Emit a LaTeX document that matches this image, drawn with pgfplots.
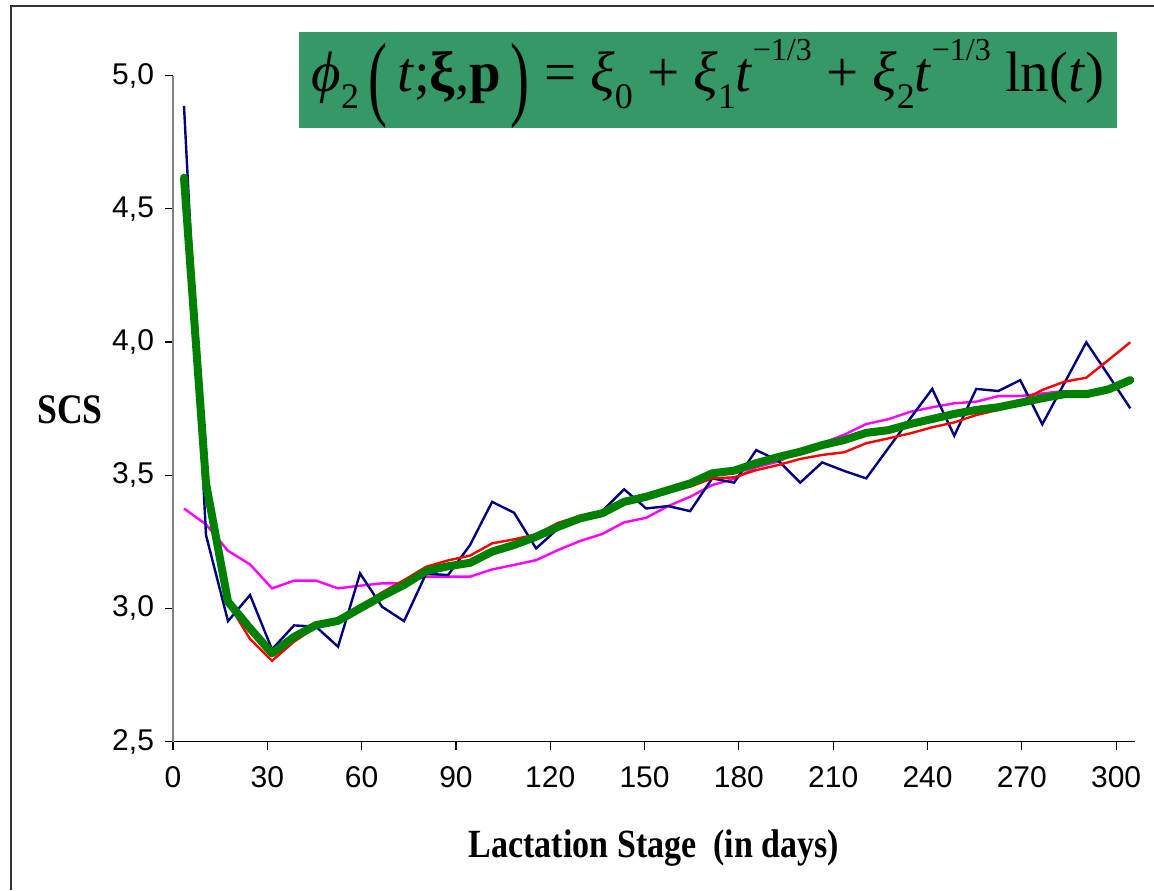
\documentclass[border=0pt]{standalone}
\usepackage{pgfplots}
\pgfplotsset{compat=1.18}
\usepackage{fontspec}
\setmainfont{Liberation Serif}
\newfontfamily\arialfont{Liberation Sans}
\newfontfamily\condserif[FakeStretch=0.85]{Liberation Serif}

\definecolor{eqgreen}{RGB}{52,153,102}
\definecolor{navyline}{RGB}{0,0,128}
\definecolor{fitgreen}{RGB}{0,128,0}
\definecolor{pinkline}{RGB}{255,0,255}
\definecolor{redline}{RGB}{255,0,0}

\newcommand{\sub}[1]{\raisebox{-0.3em}{\fontsize{18}{18}\selectfont #1}}
\newcommand{\sups}[1]{\raisebox{0.55em}{\fontsize{16}{16}\selectfont #1}}
\newcommand{\bigpar}[1]{\raisebox{-0.3em}{\scalebox{1}[1.65]{#1}}}

\begin{document}
\begin{tikzpicture}
  \useasboundingbox (0,0) rectangle (577pt,445pt);
  % outer frame (only top and left visible)
  \draw[line width=0.8pt, black!80] (5.5pt,0) -- (5.5pt,442pt) -- (577pt,442pt);

  \begin{axis}[
      at={(86.5pt,74.25pt)}, anchor=south west,
      scale only axis,
      width=481pt, height=332.9pt,
      xmin=0, xmax=306,
      ymin=2.5, ymax=5,
      axis x line*=bottom,
      axis y line*=left,
      y axis line style={draw=gray, line width=0.9pt},
      x axis line style={draw=black, line width=0.8pt},
      tick align=outside,
      major tick length=4pt,
      tick style={black, line width=0.6pt},
      xtick={0,30,...,300},
      ytick={2.5,3,3.5,4,4.5,5},
      ticklabel style={font=\arialfont\fontsize{15}{15}\selectfont},
      /pgf/number format/assume math mode=true,
      yticklabel style={/pgf/number format/fixed, /pgf/number format/fixed zerofill,
        /pgf/number format/precision=1, /pgf/number format/use comma, xshift=-2pt},
      xticklabel style={yshift=-5pt},
      clip=false,
    ]
    % observed averages (2), magenta
    \addplot[color=pinkline, line width=1.2pt] coordinates {
      (3.5,3.375) (10.5,3.315) (17.5,3.216) (24.5,3.165) (31.5,3.075)
      (38.5,3.104) (45.5,3.104) (52.5,3.075) (59.5,3.085) (66.5,3.094)
      (73.5,3.094) (80.5,3.119) (87.5,3.119) (94.5,3.119) (101.5,3.146)
      (108.5,3.163) (115.5,3.181) (122.5,3.219) (129.5,3.253) (136.5,3.279)
      (143.5,3.323) (150.5,3.340) (157.5,3.384) (164.5,3.419) (171.5,3.463)
      (178.5,3.486) (185.5,3.530) (192.5,3.551) (199.5,3.590) (206.5,3.620)
      (213.5,3.652) (220.5,3.692) (227.5,3.710) (234.5,3.738) (241.5,3.755)
      (248.5,3.770) (255.5,3.776) (262.5,3.797) (269.5,3.797) (276.5,3.807)
      (283.5,3.816) (290.5,3.810) (297.5,3.830) (304.5,3.860)
    };
    % raw means, navy
    \addplot[color=navyline, line width=1.2pt] coordinates {
      (3.5,4.887) (10.5,3.275) (17.5,2.952) (24.5,3.050) (31.5,2.846)
      (38.5,2.936) (45.5,2.931) (52.5,2.856) (59.5,3.131) (66.5,3.006)
      (73.5,2.952) (80.5,3.130) (87.5,3.125) (94.5,3.238) (101.5,3.400)
      (108.5,3.359) (115.5,3.225) (122.5,3.300) (129.5,3.340) (136.5,3.365)
      (143.5,3.447) (150.5,3.375) (157.5,3.384) (164.5,3.365) (171.5,3.488)
      (178.5,3.472) (185.5,3.594) (192.5,3.555) (199.5,3.472) (206.5,3.548)
      (213.5,3.516) (220.5,3.488) (227.5,3.601) (234.5,3.713) (241.5,3.824)
      (248.5,3.648) (255.5,3.824) (262.5,3.816) (269.5,3.857) (276.5,3.691)
      (283.5,3.845) (290.5,3.999) (297.5,3.876) (304.5,3.751)
    };
    % red
    \addplot[color=redline, line width=1.2pt] coordinates {
      (3.5,4.600) (10.5,3.460) (17.5,3.020) (24.5,2.885) (31.5,2.803)
      (38.5,2.875) (45.5,2.930) (52.5,2.956) (59.5,3.006) (66.5,3.060)
      (73.5,3.106) (80.5,3.156) (87.5,3.180) (94.5,3.198) (101.5,3.244)
      (108.5,3.259) (115.5,3.278) (122.5,3.321) (129.5,3.347) (136.5,3.363)
      (143.5,3.404) (150.5,3.419) (157.5,3.438) (164.5,3.457) (171.5,3.488)
      (178.5,3.492) (185.5,3.519) (192.5,3.538) (199.5,3.561) (206.5,3.576)
      (213.5,3.586) (220.5,3.620) (227.5,3.638) (234.5,3.657) (241.5,3.680)
      (248.5,3.698) (255.5,3.726) (262.5,3.745) (269.5,3.776) (276.5,3.820)
      (283.5,3.851) (290.5,3.866) (297.5,3.932) (304.5,3.999)
    };
    % phi_2 fit, thick green
    \addplot[color=fitgreen, line width=4pt, line join=round, line cap=round] coordinates {
      (3.5,4.617) (10.5,3.469) (17.5,3.025) (24.5,2.925) (31.5,2.831)
      (38.5,2.893) (45.5,2.937) (52.5,2.953) (59.5,3.000) (66.5,3.046)
      (73.5,3.088) (80.5,3.140) (87.5,3.158) (94.5,3.171) (101.5,3.213)
      (108.5,3.238) (115.5,3.269) (122.5,3.306) (129.5,3.338) (136.5,3.357)
      (143.5,3.400) (150.5,3.419) (157.5,3.444) (164.5,3.469) (171.5,3.507)
      (178.5,3.517) (185.5,3.545) (192.5,3.568) (199.5,3.588) (206.5,3.613)
      (213.5,3.632) (220.5,3.659) (227.5,3.669) (234.5,3.692) (241.5,3.711)
      (248.5,3.730) (255.5,3.745) (262.5,3.755) (269.5,3.772) (276.5,3.789)
      (283.5,3.804) (290.5,3.804) (297.5,3.822) (304.5,3.857)
    };
  \end{axis}

  % axis labels
  \node[font=\condserif\bfseries\fontsize{21}{21}\selectfont] at (35pt,240pt) {SCS};
  \node[font=\condserif\bfseries\fontsize{20}{20}\selectfont] at (327pt,21pt) {Lactation Stage~ (in days)};

  % equation box
  \fill[eqgreen] (149.5pt,381pt) rectangle (558.5pt,429pt);
  \node[anchor=center, inner sep=0pt, font=\fontsize{28.5}{28.5}\selectfont] at (354pt,403pt)
    {\textit{ϕ}\sub{2}\,\bigpar{(}\,\textit{t};\textbf{ξ},\textbf{p}\,\bigpar{)} = \textit{ξ}\sub{0} + \textit{ξ}\sub{1}\textit{t}\sups{−1/3} + \textit{ξ}\sub{2}\textit{t}\sups{−1/3} ln(\textit{t})};
\end{tikzpicture}
\end{document}
